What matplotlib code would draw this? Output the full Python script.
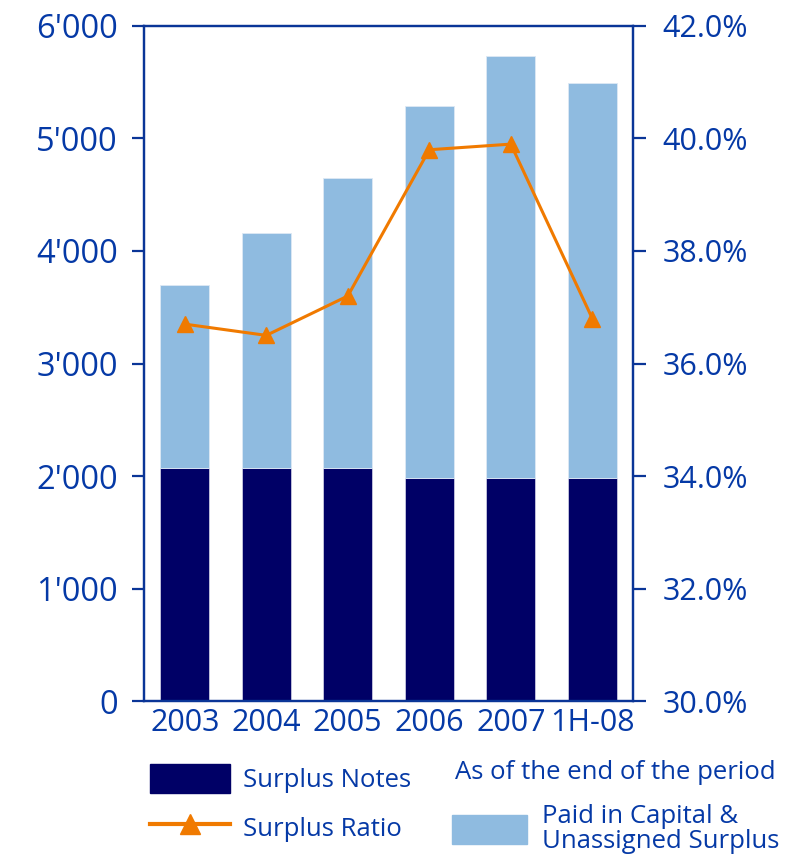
import matplotlib.pyplot as plt
from matplotlib.patches import Patch
from matplotlib.lines import Line2D

plt.rcParams['font.family'] = ['Open Sans', 'DejaVu Sans']

# data
periods = ['2003', '2004', '2005', '2006', '2007', '1H-08']
surplus_notes = [2075, 2075, 2075, 1980, 1980, 1980]
total_surplus = [3700, 4160, 4645, 5285, 5735, 5490]
paid_in = [t - n for t, n in zip(total_surplus, surplus_notes)]
surplus_ratio = [36.7, 36.5, 37.2, 39.8, 39.9, 36.8]

left_ticks = [0, 1000, 2000, 3000, 4000, 5000, 6000]
left_labels = ["0", "1'000", "2'000", "3'000", "4'000", "5'000", "6'000"]
right_ticks = [30, 32, 34, 36, 38, 40, 42]
right_labels = ["30.0%", "32.0%", "34.0%", "36.0%", "38.0%", "40.0%", "42.0%"]

navy = '#000066'
light = '#8FBBE0'
orange = '#F07A00'
blue = '#0A3597'
txt = '#0539A6'

fig = plt.figure(figsize=(8.05, 8.55), dpi=100)
ax = fig.add_axes([0.1789, 0.1801, 0.6075, 0.7895])
ax2 = ax.twinx()

x = list(range(len(periods)))
ax.bar(x, surplus_notes, width=0.6, color=navy, edgecolor='#C8C8E0', linewidth=0.6)
ax.bar(x, paid_in, bottom=surplus_notes, width=0.6, color=light, edgecolor='#DDE8F4', linewidth=0.6)

ax2.plot(x, surplus_ratio, color=orange, linewidth=2.2, marker='^', markersize=11)

ax.set_xlim(-0.5, 5.5)
ax.set_ylim(0, 6000)
ax2.set_ylim(30, 42)

ax.set_yticks(left_ticks)
ax.set_yticklabels(left_labels)
ax2.set_yticks(right_ticks)
ax2.set_yticklabels(right_labels)
ax.set_xticks(x)
ax.set_xticklabels(periods)

for a in (ax, ax2):
    for s in a.spines.values():
        s.set_color(blue)
        s.set_linewidth(1.6)
ax.tick_params(axis='y', direction='out', length=9, width=1.6, color=blue,
               labelsize=23.5, labelcolor=txt, pad=10)
ax2.tick_params(axis='y', direction='out', length=9, width=1.6, color=blue,
                labelsize=22, labelcolor=txt, pad=12)
ax.tick_params(axis='x', length=0, labelsize=22, labelcolor=txt, pad=5)

# legend
fs = 18.5
h1 = [Patch(facecolor=navy, edgecolor=navy),
      Line2D([0], [0], color=orange, linewidth=3, marker='^', markersize=14)]
leg1 = fig.legend(h1, ['Surplus Notes', 'Surplus Ratio'], loc='upper left',
                  bbox_to_anchor=(0.158, 0.133), frameon=False, fontsize=fs,
                  labelcolor=txt, handlelength=3.1, handleheight=1.35,
                  handletextpad=0.5, labelspacing=0.75)
h2 = [Patch(facecolor=light, edgecolor=light)]
leg2 = fig.legend(h2, ['Paid in Capital &\nUnassigned Surplus'], loc='upper left',
                  bbox_to_anchor=(0.533, 0.087), frameon=False, fontsize=fs,
                  labelcolor=txt, handlelength=2.9, handleheight=1.35,
                  handletextpad=0.6)
leg2.get_texts()[0].set_linespacing(1.0)
fig.text(0.565, 0.097, 'As of the end of the period', fontsize=fs, color=txt,
         ha='left', va='center')

fig.savefig('out.png', dpi=100)
